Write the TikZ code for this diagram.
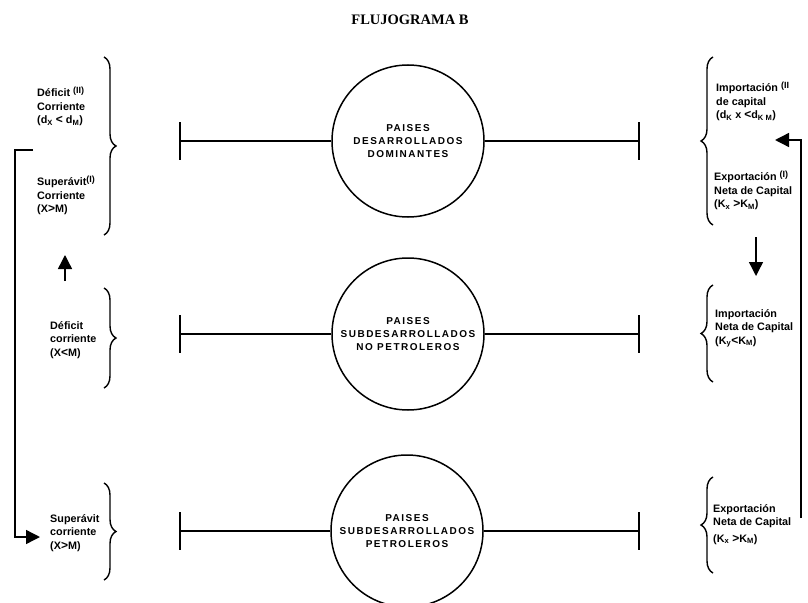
\documentclass[tikz,border=0pt]{standalone}
\usepackage{fontspec}
\setmainfont{Liberation Serif}
\setsansfont{Liberation Sans}
\usetikzlibrary{decorations.pathreplacing, arrows.meta}

\newcommand{\indice}[1]{{\fontsize{9}{9}\selectfont\raisebox{3pt}{#1}}}

\tikzset{
	pais/.style={draw, circle, line width=1.5pt, minimum size=152pt, inner sep=0pt, align=center,
		font=\sffamily\bfseries\addfontfeatures{LetterSpace=15}\fontsize{10}{13}\selectfont},
	txt/.style={anchor=north west, inner sep=0pt, align=left,
		font=\sffamily\bfseries\fontsize{10.8}{13.5}\selectfont},
	llave/.style={decorate, decoration={brace, amplitude=12pt}, line width=1.4pt},
	linea/.style={line width=1.6pt},
	flecha/.style={line width=1.4pt, arrows={-Triangle[length=14pt, width=14pt]}},
}

\begin{document}
\begin{tikzpicture}[x=1pt, y=-1pt]
	\useasboundingbox (0,0) rectangle (808,602);
	\node [font=\rmfamily\bfseries\fontsize{14.5}{16}\selectfont] (tit) at (410,20) {FLUJOGRAMA B};

	% circulos
	\node [pais] (dom) at (408,141) {PAISES\\DESARROLLADOS\\DOMINANTES};
	\node [pais] (nop) at (408,334) {PAISES\\SUBDESARROLLADOS\\NO PETROLEROS};
	\node [pais] (pet) at (407,531) {PAISES\\SUBDESARROLLADOS\\PETROLEROS};

	\foreach \c in {dom, nop, pet} {
		\coordinate (\c-l) at (180,0 |- \c);
		\coordinate (\c-r) at (639,0 |- \c);
		\draw [linea] (\c.west) -- (\c-l) (\c-l) ++(0,-19) -- ++(0,38);
		\draw [linea] (\c.east) -- (\c-r) (\c-r) ++(0,-19) -- ++(0,38);
	}

	% izquierda
	\node [txt] (defA) at (37,87) {D\'eficit \indice{(II)}\\Corriente\\(d\textsubscript{X} {\large<} d\textsubscript{M})};
	\node [txt] (supA) at (37,176) {Super\'avit\indice{(I)}\\Corriente\\(X{\large>}M)};
	\node [txt] (defB) at (50,321) {D\'eficit\\corriente\\(X{\large<}M)};
	\node [txt] (supB) at (50,514) {Super\'avit\\corriente\\(X{\large>}M)};
	\draw [llave] (104,57) -- (104,235);
	\draw [llave] (104,288) -- (104,388);
	\draw [llave] (104,483) -- (104,580);

	% derecha
	\node [txt] (impA) at (716,82) {Importaci\'on \indice{(II}\\de capital\\(d\textsubscript{K} x {\large<}d\textsubscript{K M})};
	\node [txt] (expA) at (714,171) {Exportaci\'on \indice{(I)}\\Neta de Capital\\(K\textsubscript{x} {\large>}K\textsubscript{M})};
	\node [txt] (impB) at (715,309) {Importaci\'on\\Neta de Capital\\(K\textsubscript{y}{\large<}K\textsubscript{M})};
	\node [txt] (expB) at (713,504) {Exportaci\'on\\Neta de Capital\\[3pt](K\textsubscript{x} {\large>}K\textsubscript{M})};
	\draw [llave] (713,225) -- (713,57);
	\draw [llave] (713,382) -- (713,285);
	\draw [llave] (713,573) -- (713,477);

	% flechas
	\coordinate (izqA) at (33,150);
	\coordinate (izqB) at (40,537);
	\draw [flecha] (izqA) -- (15,150) -- (15,537) -- (izqB);
	\coordinate (subeA) at (65,281);
	\coordinate (subeB) at (65,255);
	\draw [flecha] (subeA) -- (subeB);
	\coordinate (bajaA) at (756,237);
	\coordinate (bajaB) at (756,276);
	\draw [flecha] (bajaA) -- (bajaB);
	\coordinate (derA) at (801,518);
	\coordinate (derB) at (775,140);
	\draw [flecha] (derA) -- (801,140) -- (derB);
\end{tikzpicture}
\end{document}
